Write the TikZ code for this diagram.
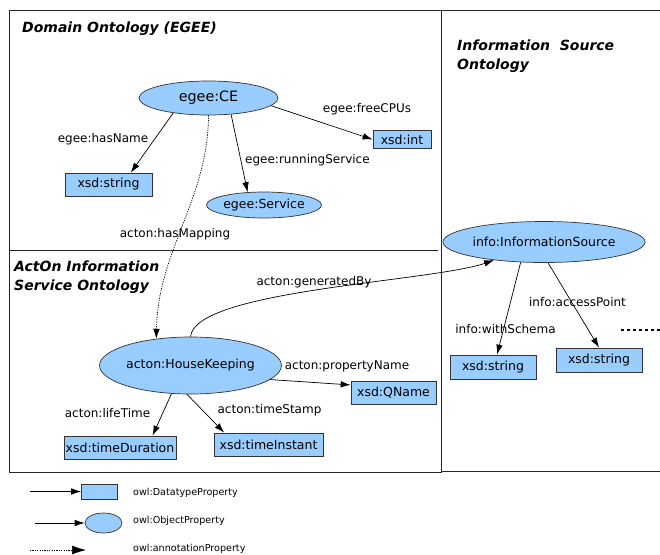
\documentclass[tikz,border=0pt]{standalone}
\usepackage{fontspec}
\setmainfont{DejaVu Sans}
\usetikzlibrary{shapes.geometric,arrows.meta}
\definecolor{owlfill}{HTML}{99CCFF}
\tikzset{
  frame/.style={draw=black!85, line width=0.9pt},
  cls/.style={ellipse, draw=black!80, fill=owlfill, line width=0.7pt, inner sep=0pt, font=\fontsize{12.5}{14}\selectfont},
  dtype/.style={rectangle, draw=black!80, fill=owlfill, line width=0.7pt, inner sep=0pt, font=\fontsize{12.5}{14}\selectfont},
  prop/.style={draw=black, line width=0.7pt, -{Latex[length=10pt,width=6.5pt]}},
  annot/.style={draw=black, line width=0.7pt, dash pattern=on 1.2pt off 1.2pt, -{Latex[length=10pt,width=6.5pt]}},
  lbl/.style={inner sep=0pt, font=\fontsize{12}{14}\selectfont},
  title/.style={inner sep=0pt, anchor=west, align=left, font=\fontsize{14}{19}\selectfont\bfseries\itshape},
  legtext/.style={inner sep=0pt, anchor=west, font=\fontsize{9.6}{11}\selectfont},
}
\begin{document}
\begin{tikzpicture}[x=1pt,y=-1pt]
\useasboundingbox (0,0) rectangle (660,554);

% ontology frames
\draw[frame] (9,10) rectangle (441,472);
\draw[frame] (9,250) -- (438,250);
\draw[frame] (660,10) -- (441,10) -- (441,471) -- (660,471);

% frame titles
\node[title] (t1) at (22,29) {Domain Ontology (EGEE)};
\node[title] (t2) at (14,277.5) {ActOn Information\\Service Ontology};
\node[title] (t3) at (457,56.5) {Information\ \ Source\\Ontology};

% domain ontology
\node[cls, minimum width=139pt, minimum height=34pt, font=\fontsize{14.3}{16}\selectfont] (ce) at (208.5,98) {egee:CE};
\node[dtype, minimum width=87pt, minimum height=23pt] (str1) at (108.5,184.5) {xsd:string};
\node[cls, minimum width=102pt, minimum height=26pt] (svc) at (264,205) {egee:Service};
\node[dtype, minimum width=58pt, minimum height=18pt] (int) at (402,139.5) {xsd:int};

% actOn information service ontology
\node[cls, minimum width=145pt, minimum height=57pt] (hk) at (190.5,365.5) {acton:HouseKeeping};
\node[dtype, minimum width=85pt, minimum height=23pt] (qn) at (393.5,392.5) {xsd:QName};
\node[dtype, minimum width=112pt, minimum height=23pt] (td) at (120,447.5) {xsd:timeDuration};
\node[dtype, minimum width=109pt, minimum height=23pt] (ti) at (268.5,444.5) {xsd:timeInstant};

% information source ontology
\node[cls, minimum width=164pt, minimum height=41pt] (is) at (544,242) {info:InformationSource};
\node[dtype, minimum width=86pt, minimum height=24pt] (str2) at (493,367) {xsd:string};
\node[dtype, minimum width=86pt, minimum height=24pt] (str3) at (599,360) {xsd:string};
\coordinate (more1) at (621,330);
\coordinate (more2) at (660,330);
\draw[line width=2.6pt, dash pattern=on 2.6pt off 3.4pt] (more1) -- (more2);

% properties
\draw[prop] (ce.203) -- (str1.28);
\draw[prop] (ce.324) -- (svc.142);
\draw[prop] (ce.353) -- (int.west);
\draw[annot] (ce.south) .. controls (208,200) and (158,250) .. (hk.142);
\draw[prop] (hk.north) .. controls (195,290) and (430,282) .. (is.200);
\draw[prop] (hk.350) -- (qn.170);
\draw[prop] (hk.236) -- (td.20);
\draw[prop] (hk.263) -- (ti.165);
\draw[prop] (is.221) -- (str2.72);
\draw[prop] (is.281) -- (str3.north);

% property labels
\node[lbl] (l1) at (103,139) {egee:hasName};
\node[lbl, anchor=west] (l2) at (245,160) {egee:runningService};
\node[lbl] (l3) at (367,109) {egee:freeCPUs};
\node[lbl] (l4) at (175,234) {acton:hasMapping};
\node[lbl] (l5) at (314,282) {acton:generatedBy};
\node[lbl] (l6) at (347,366) {acton:propertyName};
\node[lbl] (l7) at (107.5,413) {acton:lifeTime};
\node[lbl] (l8) at (269.5,410) {acton:timeStamp};
\node[lbl] (l9) at (505.5,329) {info:withSchema};
\node[lbl] (l10) at (577.5,302) {info:accessPoint};

% legend
\node[dtype, minimum width=36pt, minimum height=15pt] (kd) at (99.5,491.5) {};
\coordinate (kd0) at (30,491.5);
\draw[prop] (kd0) -- (kd.west);
\node[legtext] (kdt) at (133,493) {owl:DatatypeProperty};

\node[cls, minimum width=37pt, minimum height=20pt] (ko) at (103.5,523) {};
\coordinate (ko0) at (35,523);
\draw[prop] (ko0) -- (ko.west);
\node[legtext] (kot) at (133,521) {owl:ObjectProperty};

\coordinate (ka0) at (30,550);
\coordinate (ka1) at (86,550);
\draw[annot, -{Latex[length=14pt,width=9pt]}] (ka0) -- (ka1);
\node[legtext] (kat) at (133,548.5) {owl:annotationProperty};
\end{tikzpicture}
\end{document}
